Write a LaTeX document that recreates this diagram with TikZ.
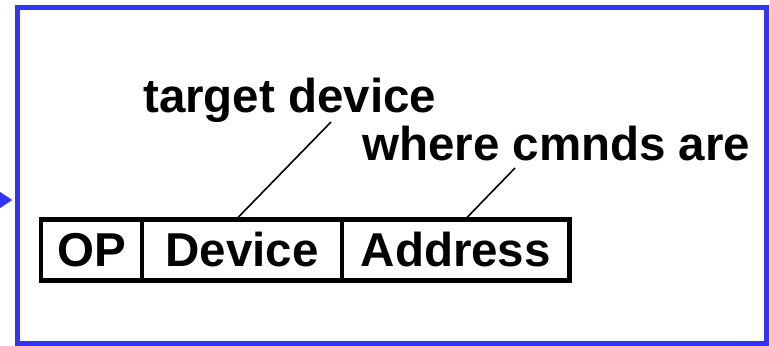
\documentclass[tikz,border=0pt]{standalone}
\usepackage{fontspec}
\setmainfont{Liberation Sans}
\usetikzlibrary{positioning,arrows.meta}
\definecolor{frameblue}{RGB}{51,51,255}
\begin{document}
\begin{tikzpicture}[
  x=1pt, y=-1pt,
  field/.style={rectangle, draw, line width=4.5pt, minimum height=61pt, inner sep=0pt, outer sep=0pt, font=\fontsize{47.5}{52}\selectfont\bfseries},
  note/.style={inner sep=0pt, anchor=base west, font=\fontsize{47.5}{52}\selectfont\bfseries},
  leader/.style={line width=1.6pt}
]
\useasboundingbox (0,0) rectangle (770,345);
\node[draw=frameblue, line width=5pt, minimum width=749.5pt, minimum height=335pt, inner sep=0pt, anchor=north west] (frame) at (14.5,5.5) {};

% instruction fields
\node[field, minimum width=101pt, anchor=west] (op) at (41,250) {OP};
\node[field, minimum width=200pt, right=0pt of op] (device) {Device};
\node[field, minimum width=227.5pt, right=0pt of device] (address) {Address};

\node[note] (target) at (143,112) {target device};
\node[note] (where) at (362,160) {where cmnds are};

\coordinate (targetend) at (331,122);
\coordinate (whereend) at (515,168);
\coordinate (devtop) at (238,217.5);
\coordinate (addrtop) at (467,217.5);
\draw[leader] (devtop) -- (targetend);
\draw[leader] (addrtop) -- (whereend);

% incoming arrow
\coordinate (from) at (-30,200);
\coordinate (entry) at (12,200);
\draw[frameblue, -{Triangle[length=12pt,width=16pt]}] (from) -- (entry);
\end{tikzpicture}
\end{document}
